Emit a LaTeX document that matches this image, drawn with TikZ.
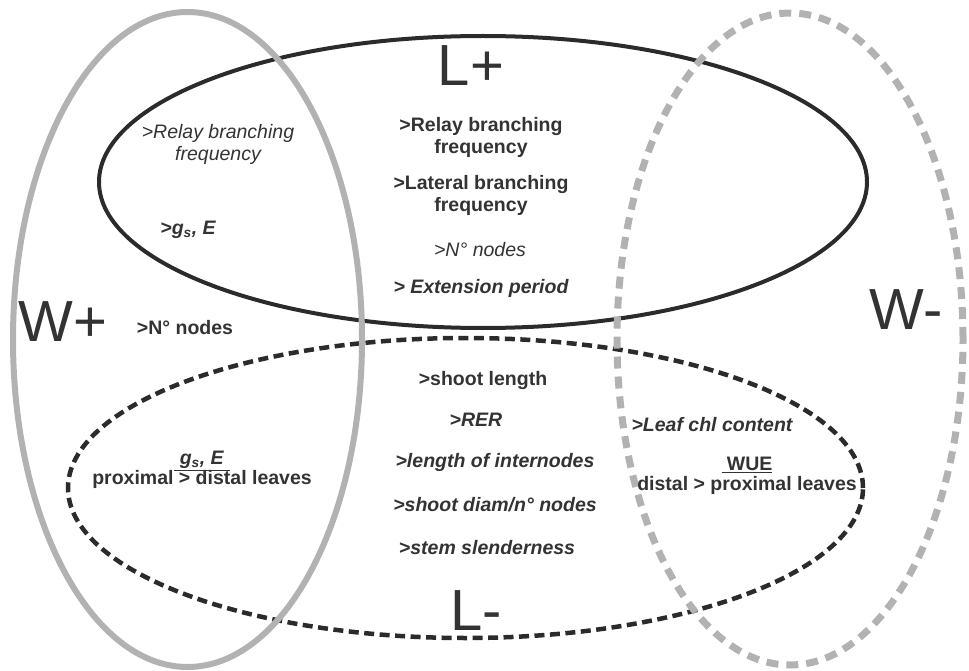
\documentclass[tikz,border=0pt]{standalone}
\usepackage{fontspec}
\setmainfont{Liberation Sans}
\usepackage{xcolor}
\usepackage{tikz}

\definecolor{inkgray}{HTML}{333333}
\definecolor{ringdark}{HTML}{2B2B2B}
\definecolor{ringgray}{HTML}{B2B2B2}

\begin{document}
\begin{tikzpicture}[x=1pt,y=-1pt]
        \tikzset{Ring/.style={%
            draw=ringdark,%
            line width=4pt,%
        }}
        \tikzset{RingDash/.style={%
            Ring,%
            line width=4.5pt,%
            dash pattern=on 10pt off 5.5pt,%
        }}
        \tikzset{RingGray/.style={%
            draw=ringgray,%
            line width=6pt,%
        }}
        \tikzset{RingGrayDash/.style={%
            RingGray,%
            line width=7pt,%
            dash pattern=on 12pt off 8pt,%
        }}
        \tikzset{SetName/.style={%
            text=inkgray,%
            inner sep=0pt,%
            font=\fontsize{58}{60}\selectfont,%
        }}
        \tikzset{Item/.style={%
            text=inkgray,%
            inner sep=0pt,%
            align=center,%
            font=\fontsize{19.5}{22}\selectfont\bfseries,%
        }}
        \tikzset{ItemIt/.style={Item, font=\fontsize{19.5}{22}\selectfont\itshape}}
        \tikzset{ItemBI/.style={Item, font=\fontsize{19.5}{22}\selectfont\bfseries\itshape}}

        \useasboundingbox (0,0) rectangle (969,671);

        % the two leaf sets
        \draw[Ring] (483,182) ellipse [x radius=384pt, y radius=146pt];
        \draw[RingDash] (465.5,488) ellipse [x radius=397.5pt, y radius=150pt];
        % the two water sets
        \draw[RingGray] (187.5,339.5) ellipse [x radius=174.5pt, y radius=327.5pt];
        \draw[RingGrayDash] (790,339) ellipse [x radius=173pt, y radius=326pt];

        \node[SetName] (Lp) at (471,66) {L+};
        \node[SetName] (Lm) at (476,611) {L-};
        \node[SetName] (Wp) at (63,322) {W+};
        \node[SetName] (Wm) at (906,310) {W-};

        % L+
        \node[Item] (relayL) at (481,137) {>Relay branching\\frequency};
        \node[Item] (lateral) at (481,195) {>Lateral branching\\frequency};
        \node[ItemIt] (nodesL) at (480,250) {>N° nodes};
        \node[ItemBI] (period) at (481,288) {> Extension period};

        % W+
        \node[ItemIt] (relayW) at (218,144) {>Relay branching\\frequency};
        \node[ItemBI] (gsE) at (188,230) {>g\textsubscript{s}, E};
        \node[Item] (nodesW) at (185,328) {>N° nodes};
        \node[Item] (leavesW) at (202,470) {\underline{\ \textit{g\textsubscript{s}, E}\ }\\[-2pt]proximal > distal leaves};

        % L-
        \node[Item] (shoot) at (483,380) {>shoot length};
        \node[ItemBI] (rer) at (476,420) {>RER};
        \node[ItemBI] (internodes) at (495,462) {>length of internodes};
        \node[ItemBI] (diam) at (495,505) {>shoot diam/n° nodes};
        \node[ItemBI] (slender) at (487,548) {>stem slenderness};

        % W-
        \node[ItemBI] (chl) at (712,425) {>Leaf chl content};
        \node[Item] (leavesE) at (747,476) {\underline{\ WUE}\\[-2pt]distal > proximal leaves};
\end{tikzpicture}
\end{document}
